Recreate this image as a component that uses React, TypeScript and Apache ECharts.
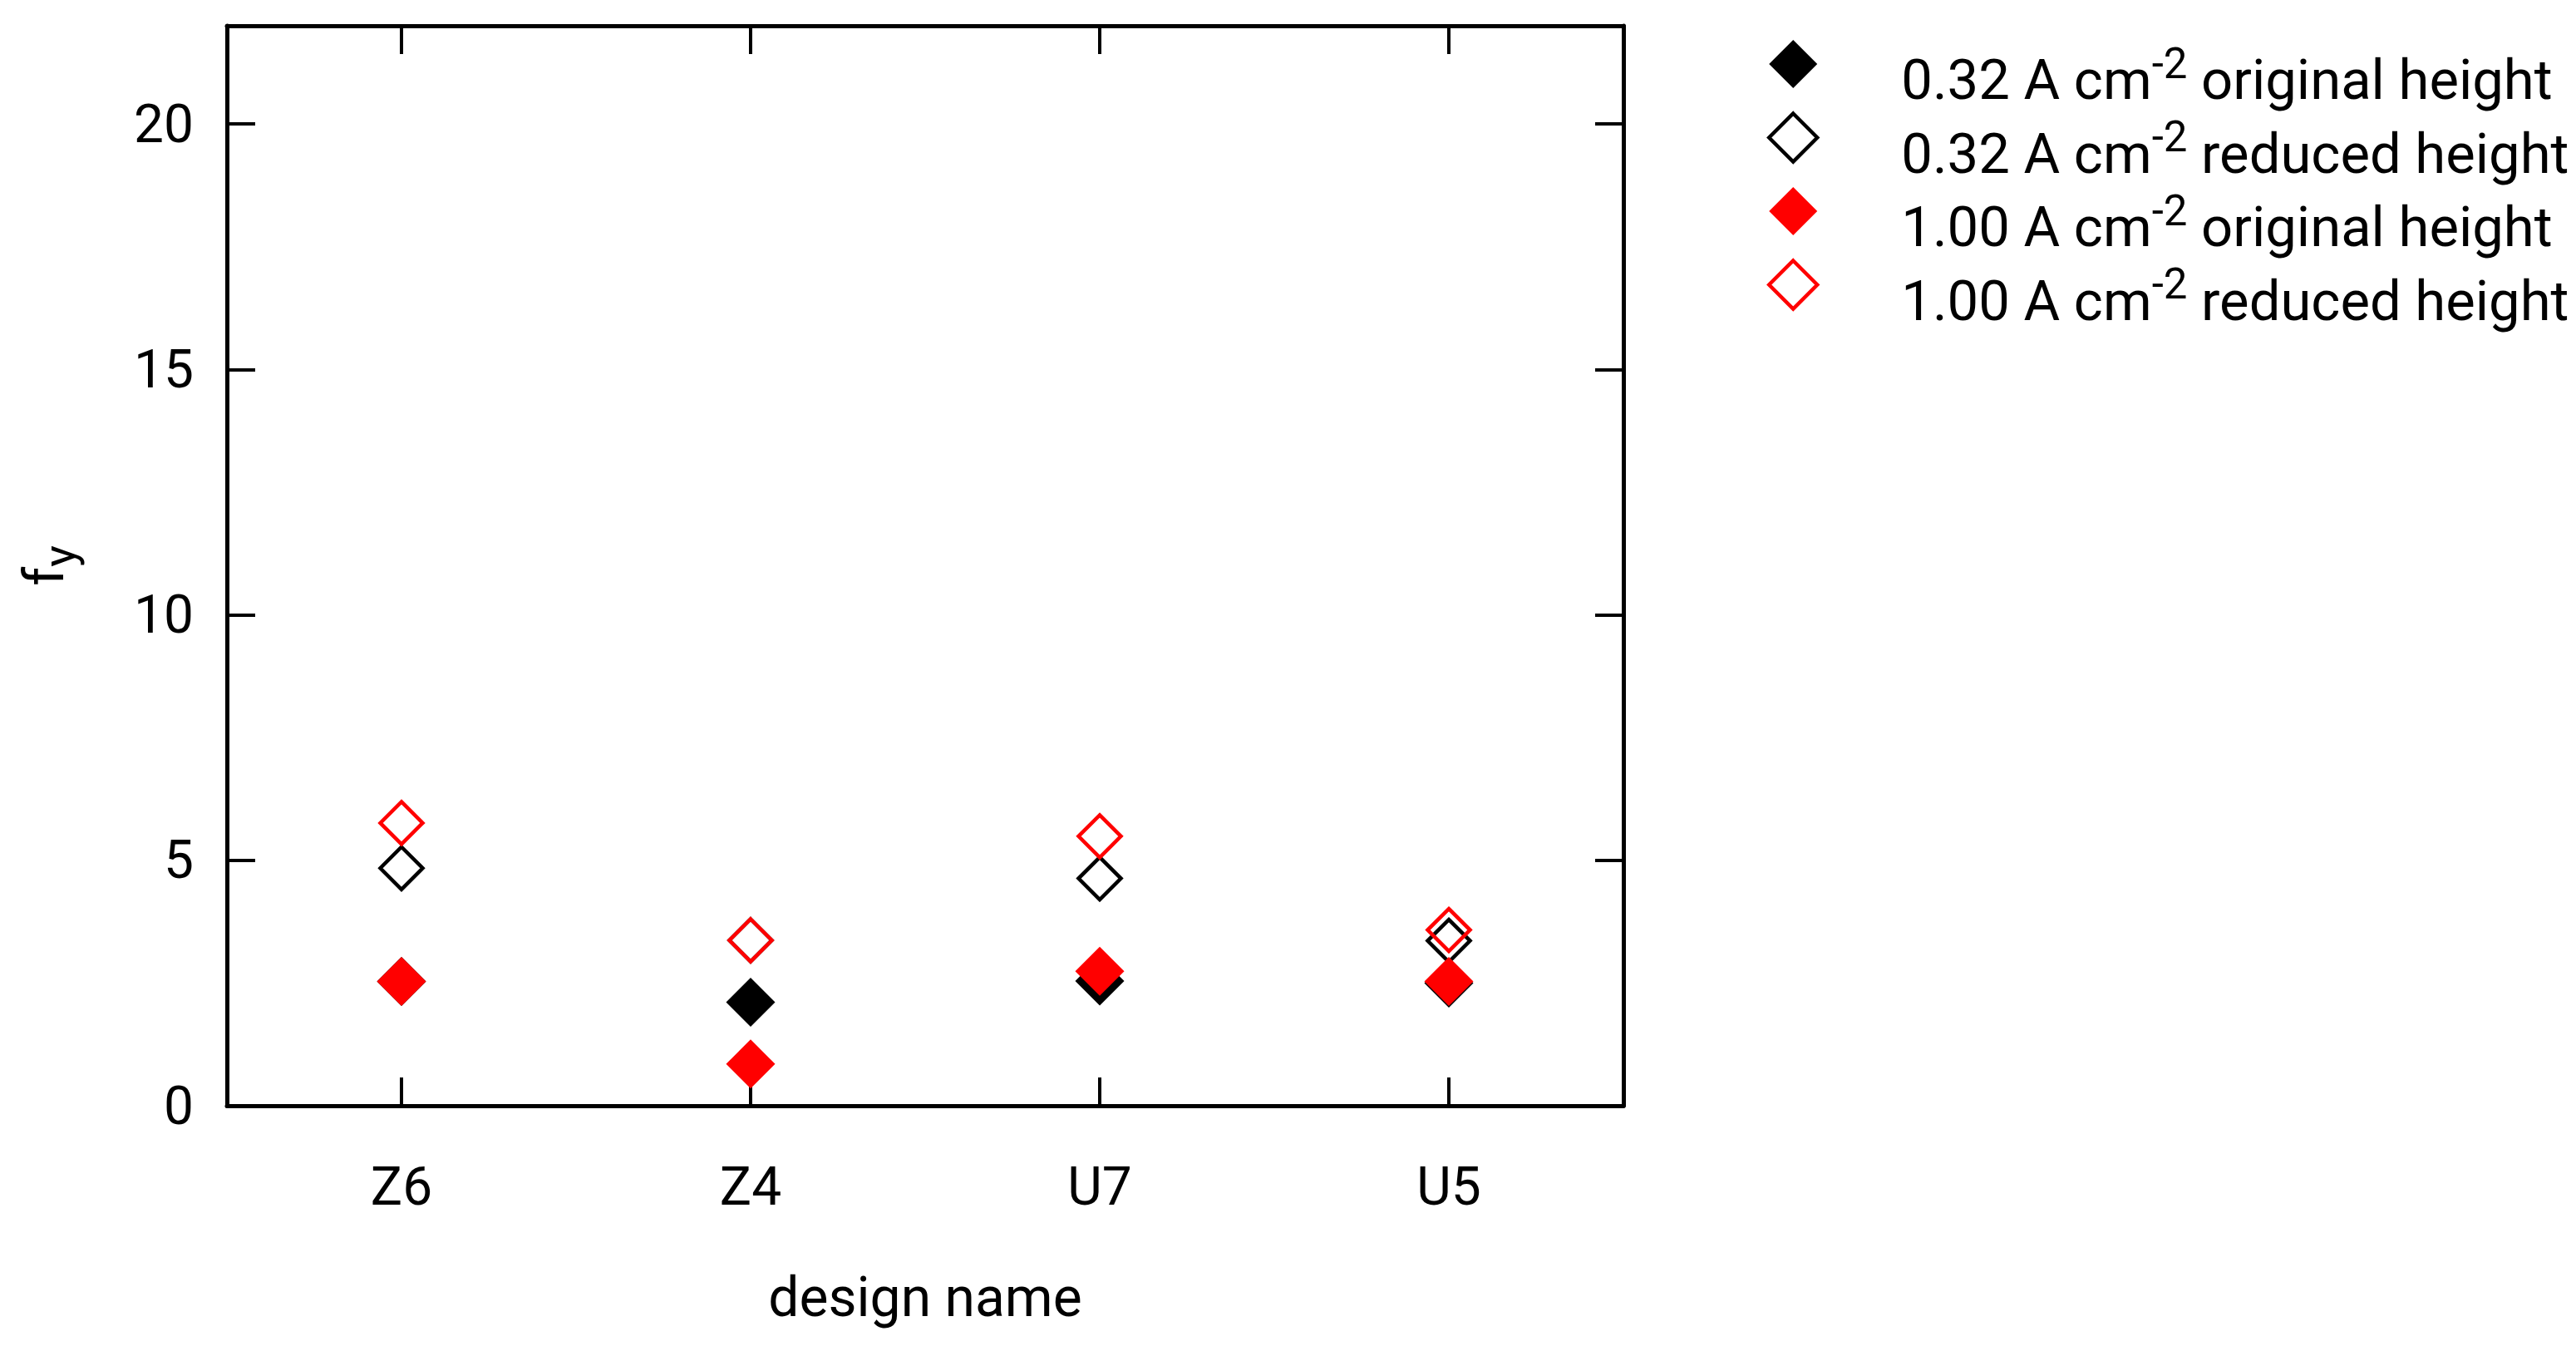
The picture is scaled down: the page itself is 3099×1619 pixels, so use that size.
import React, { useEffect, useRef } from "react";
import * as echarts from "echarts";

const categories = ["Z6", "Z4", "U7", "U5"];
const yTicks = [0, 5, 10, 15, 20];

const black032Original = [2.53, 2.11, 2.54, 2.5];
const black032Reduced = [4.84, 3.37, 4.63, 3.36];
const red100Original = [2.53, 0.85, 2.74, 2.53];
const red100Reduced = [5.76, 3.37, 5.49, 3.58];

const seriesNames = [
  "0.32 A cm-2 original height",
  "0.32 A cm-2 reduced height",
  "1.00 A cm-2 original height",
  "1.00 A cm-2 reduced height",
];

const FONT = "Roboto";

export default function App() {
  const ref = useRef<HTMLDivElement>(null);
  useEffect(() => {
    if (!ref.current) return;
    const chart = echarts.init(ref.current, null, { renderer: "svg" });
    const hollow = (c: string) => ({ color: "rgba(0,0,0,0)", borderColor: c, borderWidth: 4.5, opacity: 1 });
    const axisLine = { show: true, onZero: false, lineStyle: { color: "#000", width: 5 } };
    const tick = { show: true, inside: true, length: 34, lineStyle: { color: "#000", width: 4 } };
    chart.setOption({
      animation: false,
      backgroundColor: "#fff",
      grid: { left: 270, right: 1146, top: 31, bottom: 289, containLabel: false },
      legend: {
        orient: "vertical",
        left: 2121,
        top: 19.5,
        itemWidth: 58,
        itemHeight: 58,
        itemGap: -16.5,
        icon: "diamond",
        itemStyle: { borderWidth: "inherit" },
        data: seriesNames,
        formatter: (name: string) => {
          const parts = name.split("cm-2");
          return `{m|${parts[0]}cm}{s|-2}{m|${parts[1]}}`;
        },
        textStyle: {
          padding: [0, 0, 0, 96],
          color: "#000",
          fontFamily: FONT,
          rich: {
            m: { fontSize: 67, fontFamily: FONT, color: "#000", lineHeight: 58, padding: [38, 0, 0, 0] },
            s: { fontSize: 51, fontFamily: FONT, color: "#000", lineHeight: 58, padding: [0, 0, 2, 0] },
          },
        },
      },
      xAxis: [
        {
          type: "category",
          data: categories,
          position: "bottom",
          boundaryGap: true,
          axisLine,
          axisTick: { ...tick, alignWithLabel: true },
          axisLabel: { margin: 65, fontSize: 64, fontFamily: FONT, color: "#000", lineHeight: 64 },
          splitLine: { show: false },
          name: "design name",
          nameLocation: "middle",
          nameGap: 197,
          nameTextStyle: { fontSize: 66, fontFamily: FONT, color: "#000", lineHeight: 66 },
        },
        {
          type: "category",
          data: categories,
          position: "top",
          boundaryGap: true,
          axisLine,
          axisTick: { ...tick, alignWithLabel: true },
          axisLabel: { show: false },
          splitLine: { show: false },
        },
      ],
      yAxis: [
        {
          type: "value",
          min: 0,
          max: 22,
          position: "left",
          axisLine,
          axisTick: { ...tick, customValues: yTicks },
          axisLabel: { customValues: yTicks, margin: 40, fontSize: 64, fontFamily: FONT, color: "#000" },
          splitLine: { show: false },
          name: "{f|f}{s|y}",
          nameLocation: "middle",
          nameRotate: 90,
          nameGap: 190,
          nameTextStyle: {
            color: "#000",
            rich: {
              f: { fontSize: 66, fontFamily: FONT, color: "#000", lineHeight: 60 },
              s: { fontSize: 54, fontFamily: FONT, color: "#000", lineHeight: 60, padding: [36, 0, 0, 0] },
            },
          },
        },
        {
          type: "value",
          min: 0,
          max: 22,
          position: "right",
          axisLine,
          axisTick: { ...tick, customValues: yTicks },
          axisLabel: { show: false },
          splitLine: { show: false },
        },
      ],
      series: [
        { name: seriesNames[0], type: "scatter", data: black032Original, symbol: "diamond", symbolSize: 59, itemStyle: { color: "#000", opacity: 1 } },
        { name: seriesNames[1], type: "scatter", data: black032Reduced, symbol: "diamond", symbolSize: 51, itemStyle: hollow("#000") },
        { name: seriesNames[2], type: "scatter", data: red100Original, symbol: "diamond", symbolSize: 59, itemStyle: { color: "#ff0000", opacity: 1 } },
        { name: seriesNames[3], type: "scatter", data: red100Reduced, symbol: "diamond", symbolSize: 51, itemStyle: hollow("#ff0000") },
      ],
    });
    return () => chart.dispose();
  }, []);
  return (
    <div
      ref={ref}
      style={{ position: "absolute", left: 0, top: 0, width: "3099px", height: "1619px", background: "#fff" }}
    />
  );
}
